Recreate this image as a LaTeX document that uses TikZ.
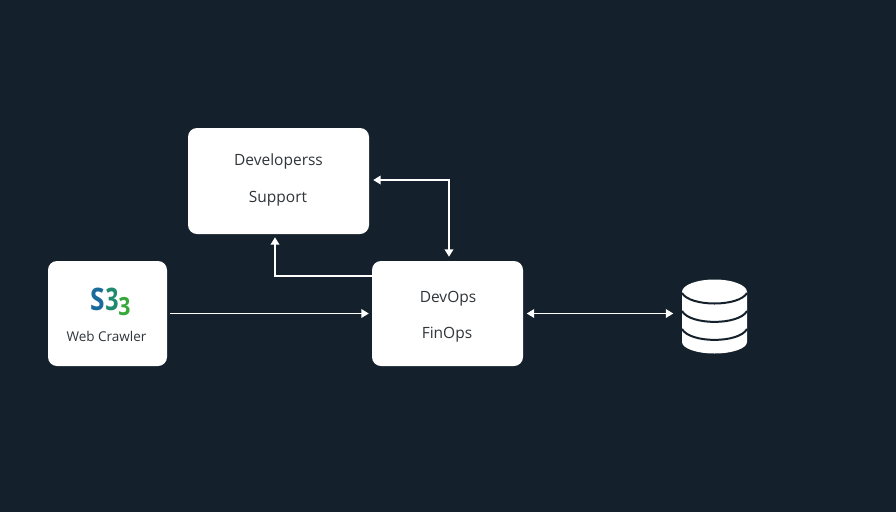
\documentclass[tikz,border=0pt]{standalone}
\usepackage{fontspec}
\setmainfont{Open Sans}
\usetikzlibrary{arrows.meta,calc}
\definecolor{bgc}{HTML}{14202B}
\definecolor{txt}{HTML}{30353A}
\definecolor{sblue}{HTML}{1B6A9C}
\definecolor{steal}{HTML}{1E8A6E}
\definecolor{sgreen}{HTML}{35A83A}
\tikzset{
  card/.style={fill=white,rounded corners=9pt,inner sep=0pt,text=txt},
  lbl/.style={text=txt,inner sep=0pt,font=\fontsize{15.5}{18}\selectfont},
  wire/.style={draw=white,line width=1.9pt,-{Triangle[length=7.5pt,width=8.5pt]}},
  biwire/.style={draw=white,line width=1.9pt,{Triangle[length=7.5pt,width=8.5pt]}-{Triangle[length=7.5pt,width=8.5pt]}},
  band/.style={draw=bgc,line width=2pt},
}
\begin{document}
\begin{tikzpicture}[x=1pt,y=-1pt]
\useasboundingbox[fill=bgc] (0,0) rectangle (896,512);
% boxes
\node[card,minimum width=181pt,minimum height=106pt] (dev) at (278.5,181) {};
\node[card,minimum width=151pt,minimum height=105pt] (ops) at (447.5,313.5) {};
\node[card,minimum width=119pt,minimum height=105pt] (web) at (107.5,313.5) {};
\node[lbl] (t1) at (278.5,161.5) {Developerss};
\node[lbl] (t2) at (278,198.5) {Support};
\node[lbl] (t3) at (448,298.5) {DevOps};
\node[lbl] (t4) at (447,334.5) {FinOps};
\node[lbl,font=\fontsize{13.5}{16}\selectfont] (t5) at (106.5,336) {Web Crawler};
\node[inner sep=0pt,text=sblue,font=\fontsize{31}{34}\selectfont\bfseries,xscale=.85] (s1) at (97.5,299) {S};
\node[inner sep=0pt,text=steal,font=\fontsize{31}{34}\selectfont\bfseries,xscale=.75] (s2) at (112,299) {3};
\node[inner sep=0pt,text=sgreen,font=\fontsize{25}{28}\selectfont\bfseries,xscale=.85] (s3) at (124.5,307) {3};
% database
\node[minimum width=65pt,minimum height=74pt,inner sep=0pt] (db) at (714.5,316.5) {};
\fill[white] (682,292) arc[start angle=180,end angle=360,x radius=32.5,y radius=12.5]
  -- (747,342) arc[start angle=0,end angle=180,x radius=32.5,y radius=11.5] -- cycle;
\draw[band] (682,293) .. controls (690,307) and (739,307) .. (747,293);
\draw[band] (682,311) .. controls (690,325.5) and (739,325.5) .. (747,311);
\draw[band] (682,329) .. controls (690,343.5) and (739,343.5) .. (747,329);
% connectors
\coordinate (a1) at ($(web.east)+(3,0)$);
\coordinate (a2) at ($(ops.west)+(-3,0)$);
\draw[wire] (a1) -- (a2);
\coordinate (b1) at (ops.west |- 0,276);
\coordinate (b2) at ($(dev.south)+(-3.5,3)$);
\draw[wire] (b1) -| (b2);
\coordinate (c1) at ($(dev.east |- 0,180)+(4,0)$);
\coordinate (c2) at ($(ops.north)+(1.5,-4)$);
\draw[biwire] (c1) -| (c2);
\coordinate (d1) at ($(ops.east)+(3.5,0)$);
\coordinate (d2) at ($(db.west)+(-8.5,-3)$);
\draw[biwire] (d1 |- d2) -- (d2);
\end{tikzpicture}
\end{document}
